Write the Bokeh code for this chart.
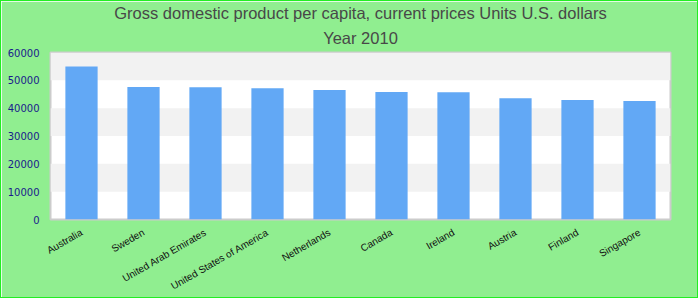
import math
from bokeh.plotting import figure
from bokeh.models import Range1d, FixedTicker, Title
from bokeh.embed import file_html
from bokeh.resources import INLINE

countries = ["Australia", "Sweden", "United Arab Emirates", "United States of America",
             "Netherlands", "Canada", "Ireland", "Austria", "Finland", "Singapore"]
gdp = [55000, 47600, 47500, 47200, 46500, 45800, 45700, 43600, 42900, 42600]
y_ticks = [0, 10000, 20000, 30000, 40000, 50000, 60000]
title_line1 = "Gross domestic product per capita, current prices Units U.S. dollars"
title_line2 = "Year 2010"

p = figure(x_range=countries, y_range=Range1d(0, 60000), width=698, height=298,
           output_backend="svg", toolbar_location=None,
           min_border_left=49, min_border_right=29, min_border_top=50, min_border_bottom=79,
           background_fill_color="white", border_fill_color="#90EE90",
           outline_line_color="#cccccc", outline_line_width=2,
           styles={"border": "1px solid #22ee22"})
p.x_range.range_padding = 0

p.vbar(x=countries, top=gdp, width=0.52, color="#62a8f5", line_color=None)

p.xgrid.grid_line_color = None
p.ygrid.grid_line_color = None
p.ygrid.band_fill_color = "#f2f2f2"
p.ygrid.band_fill_alpha = 1.0

p.yaxis.ticker = FixedTicker(ticks=y_ticks)
for ax in (p.xaxis[0], p.yaxis[0]):
    ax.axis_line_color = None
    ax.major_tick_line_color = None
    ax.minor_tick_line_color = None
    ax.major_tick_out = 0
    ax.major_tick_in = 0
p.yaxis.major_label_text_font = "DejaVu Sans"
p.yaxis.major_label_text_font_size = "10px"
p.yaxis.major_label_text_color = "#1a1a8c"
p.yaxis.major_label_standoff = 11
p.xaxis.major_label_text_font = "Liberation Sans"
p.xaxis.major_label_text_font_size = "10px"
p.xaxis.major_label_text_color = "#111111"
p.xaxis.major_label_orientation = math.pi / 6
p.xaxis.major_label_standoff = 12

p.add_layout(Title(text=title_line2, align="center", text_font="Liberation Sans",
                   text_font_size="16.5px", text_font_style="normal",
                   text_color="#484848", standoff=11), "above")
p.add_layout(Title(text=title_line1, align="center", text_font="Liberation Sans",
                   text_font_size="16.5px", text_font_style="normal",
                   text_color="#484848", standoff=0), "above")

open("out.html", "w").write(file_html(p, INLINE))
